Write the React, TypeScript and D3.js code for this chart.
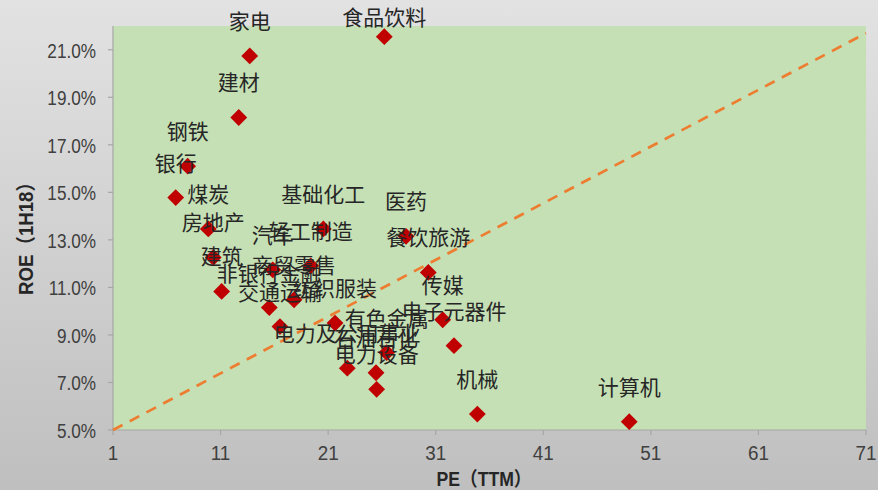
import React from 'react';
import * as d3 from 'd3';

// Industry valuation vs. profitability: PE (TTM) against ROE (1H18)
const industries = [
  '家电', '食品饮料', '建材', '钢铁', '银行', '煤炭', '房地产', '建筑',
  '基础化工', '医药', '汽车', '轻工制造', '非银行金融', '商贸零售', '餐饮旅游',
  '纺织服装', '交通运输', '传媒', '电子元器件', '有色金属', '电力及公用事业',
  '石油石化', '电力设备', '机械', '计算机',
];
const peTTM = [
  13.71, 26.22, 12.69, 7.94, 6.83, 9.86, 10.32, 11.1,
  20.55, 28.24, 15.85, 19.38, 15.53, 17.83, 30.31,
  21.64, 16.52, 31.65, 32.7, 26.44, 22.78,
  25.45, 25.51, 34.87, 48.99,
];
const roe1H18 = [
  20.74, 21.55, 18.15, 16.1, 14.78, 13.46, 12.26, 10.83,
  13.46, 13.15, 11.74, 11.91, 10.15, 10.48, 11.63,
  9.5, 9.35, 9.64, 8.55, 8.26, 7.6,
  7.41, 6.71, 5.67, 5.35,
];

// Reference line endpoints (PE, ROE)
const refLinePE = [1, 71];
const refLineROE = [5.0, 21.7];

const xTicks = [1, 11, 21, 31, 41, 51, 61, 71];
const yTicks = [5, 7, 9, 11, 13, 15, 17, 19, 21];
const xDomain = [1, 71];
const yDomain = [5, 22];

// Label lift above each marker (px); one label sits lower near the top edge
const defaultLift = 36;
const liftOverride: Record<string, number> = { 食品饮料: 21 };

const W = 878;
const H = 490;
const plot = { left: 113, right: 866, top: 26, bottom: 430 };

export default function App() {
  const x = d3.scaleLinear().domain(xDomain).range([plot.left, plot.right]);
  const y = d3.scaleLinear().domain(yDomain).range([plot.bottom, plot.top]);
  const fmt = d3.format('.1f');

  const points = industries.map((name, i) => ({ name, pe: peTTM[i], roe: roe1H18[i] }));
  const diamond = d3.symbol().type(d3.symbolDiamond2).size(180)();
  const refLine = d3
    .line<number>()
    .x((_, i) => x(refLinePE[i]))
    .y((v) => y(v))(refLineROE);

  const axisColor = '#a6a6a6';
  const tickText = '#404040';
  const labelFont = '"Noto Sans CJK SC", "Noto Sans", sans-serif';
  const numFont = '"Liberation Sans", Arial, sans-serif';

  return (
    <svg
      width={W}
      height={H}
      style={{ position: 'absolute', left: 0, top: 0, display: 'block' }}
    >
      <defs>
        <linearGradient id="bgGrad" x1="0" y1="0" x2="0" y2="1">
          <stop offset="0" stopColor="#e2e2e2" />
          <stop offset="1" stopColor="#bfbfbf" />
        </linearGradient>
      </defs>
      <rect x={0} y={0} width={W} height={H} fill="url(#bgGrad)" />

      {/* plot area */}
      <rect
        x={plot.left}
        y={plot.top}
        width={plot.right - plot.left}
        height={plot.bottom - plot.top}
        fill="#c5e0b4"
      />

      {/* axes */}
      <line x1={plot.left} x2={plot.left} y1={plot.top} y2={plot.bottom} stroke={axisColor} strokeWidth={1.2} />
      <line x1={plot.left} x2={plot.right} y1={plot.bottom} y2={plot.bottom} stroke={axisColor} strokeWidth={1.2} />

      {yTicks.map((t) => (
        <g key={'y' + t}>
          <line x1={plot.left - 5} x2={plot.left} y1={y(t)} y2={y(t)} stroke={axisColor} strokeWidth={1.2} />
          <text
            transform={`translate(96, ${y(t) + 7.8}) scale(0.88, 1)`}
            textAnchor="end"
            fontFamily={numFont}
            fontSize={19.5}
            fill={tickText}
          >
            {fmt(t) + '%'}
          </text>
        </g>
      ))}

      {xTicks.map((t) => (
        <g key={'x' + t}>
          <line x1={x(t)} x2={x(t)} y1={plot.bottom} y2={plot.bottom + 5} stroke={axisColor} strokeWidth={1.2} />
          <text
            transform={`translate(${x(t)}, 460) scale(0.92, 1)`}
            textAnchor="middle"
            fontFamily={numFont}
            fontSize={20.5}
            fill={tickText}
          >
            {t}
          </text>
        </g>
      ))}

      {/* axis titles */}
      <text
        x={484}
        y={485.5}
        textAnchor="middle"
        fontFamily={numFont + ', "Noto Sans CJK SC"'}
        fontWeight="bold"
        fontSize={19.5}
        fill="#262626"
        textLength={95}
        lengthAdjust="spacingAndGlyphs"
      >
        PE（TTM）
      </text>
      <text
        transform="translate(33, 234) rotate(-90)"
        textAnchor="middle"
        fontFamily={numFont + ', "Noto Sans CJK SC"'}
        fontWeight="bold"
        fontSize={20}
        fill="#262626"
        textLength={122}
        lengthAdjust="spacingAndGlyphs"
      >
        ROE（1H18）
      </text>

      {/* reference line */}
      <path
        d={refLine || ''}
        fill="none"
        stroke="#ed7d31"
        strokeWidth={2.7}
        strokeDasharray="10.8 8.1"
      />

      {/* markers */}
      {points.map((p) => (
        <path
          key={'m' + p.name}
          d={diamond || ''}
          transform={`translate(${x(p.pe)}, ${y(p.roe)})`}
          fill="#c00000"
        />
      ))}

      {/* data labels */}
      {points.map((p) => (
        <text
          key={'l' + p.name}
          x={x(p.pe)}
          y={y(p.roe) - (liftOverride[p.name] ?? defaultLift)}
          textAnchor="middle"
          dominantBaseline="central"
          fontFamily={labelFont}
          fontSize={21}
          fill="#262626"
        >
          {p.name}
        </text>
      ))}
    </svg>
  );
}
